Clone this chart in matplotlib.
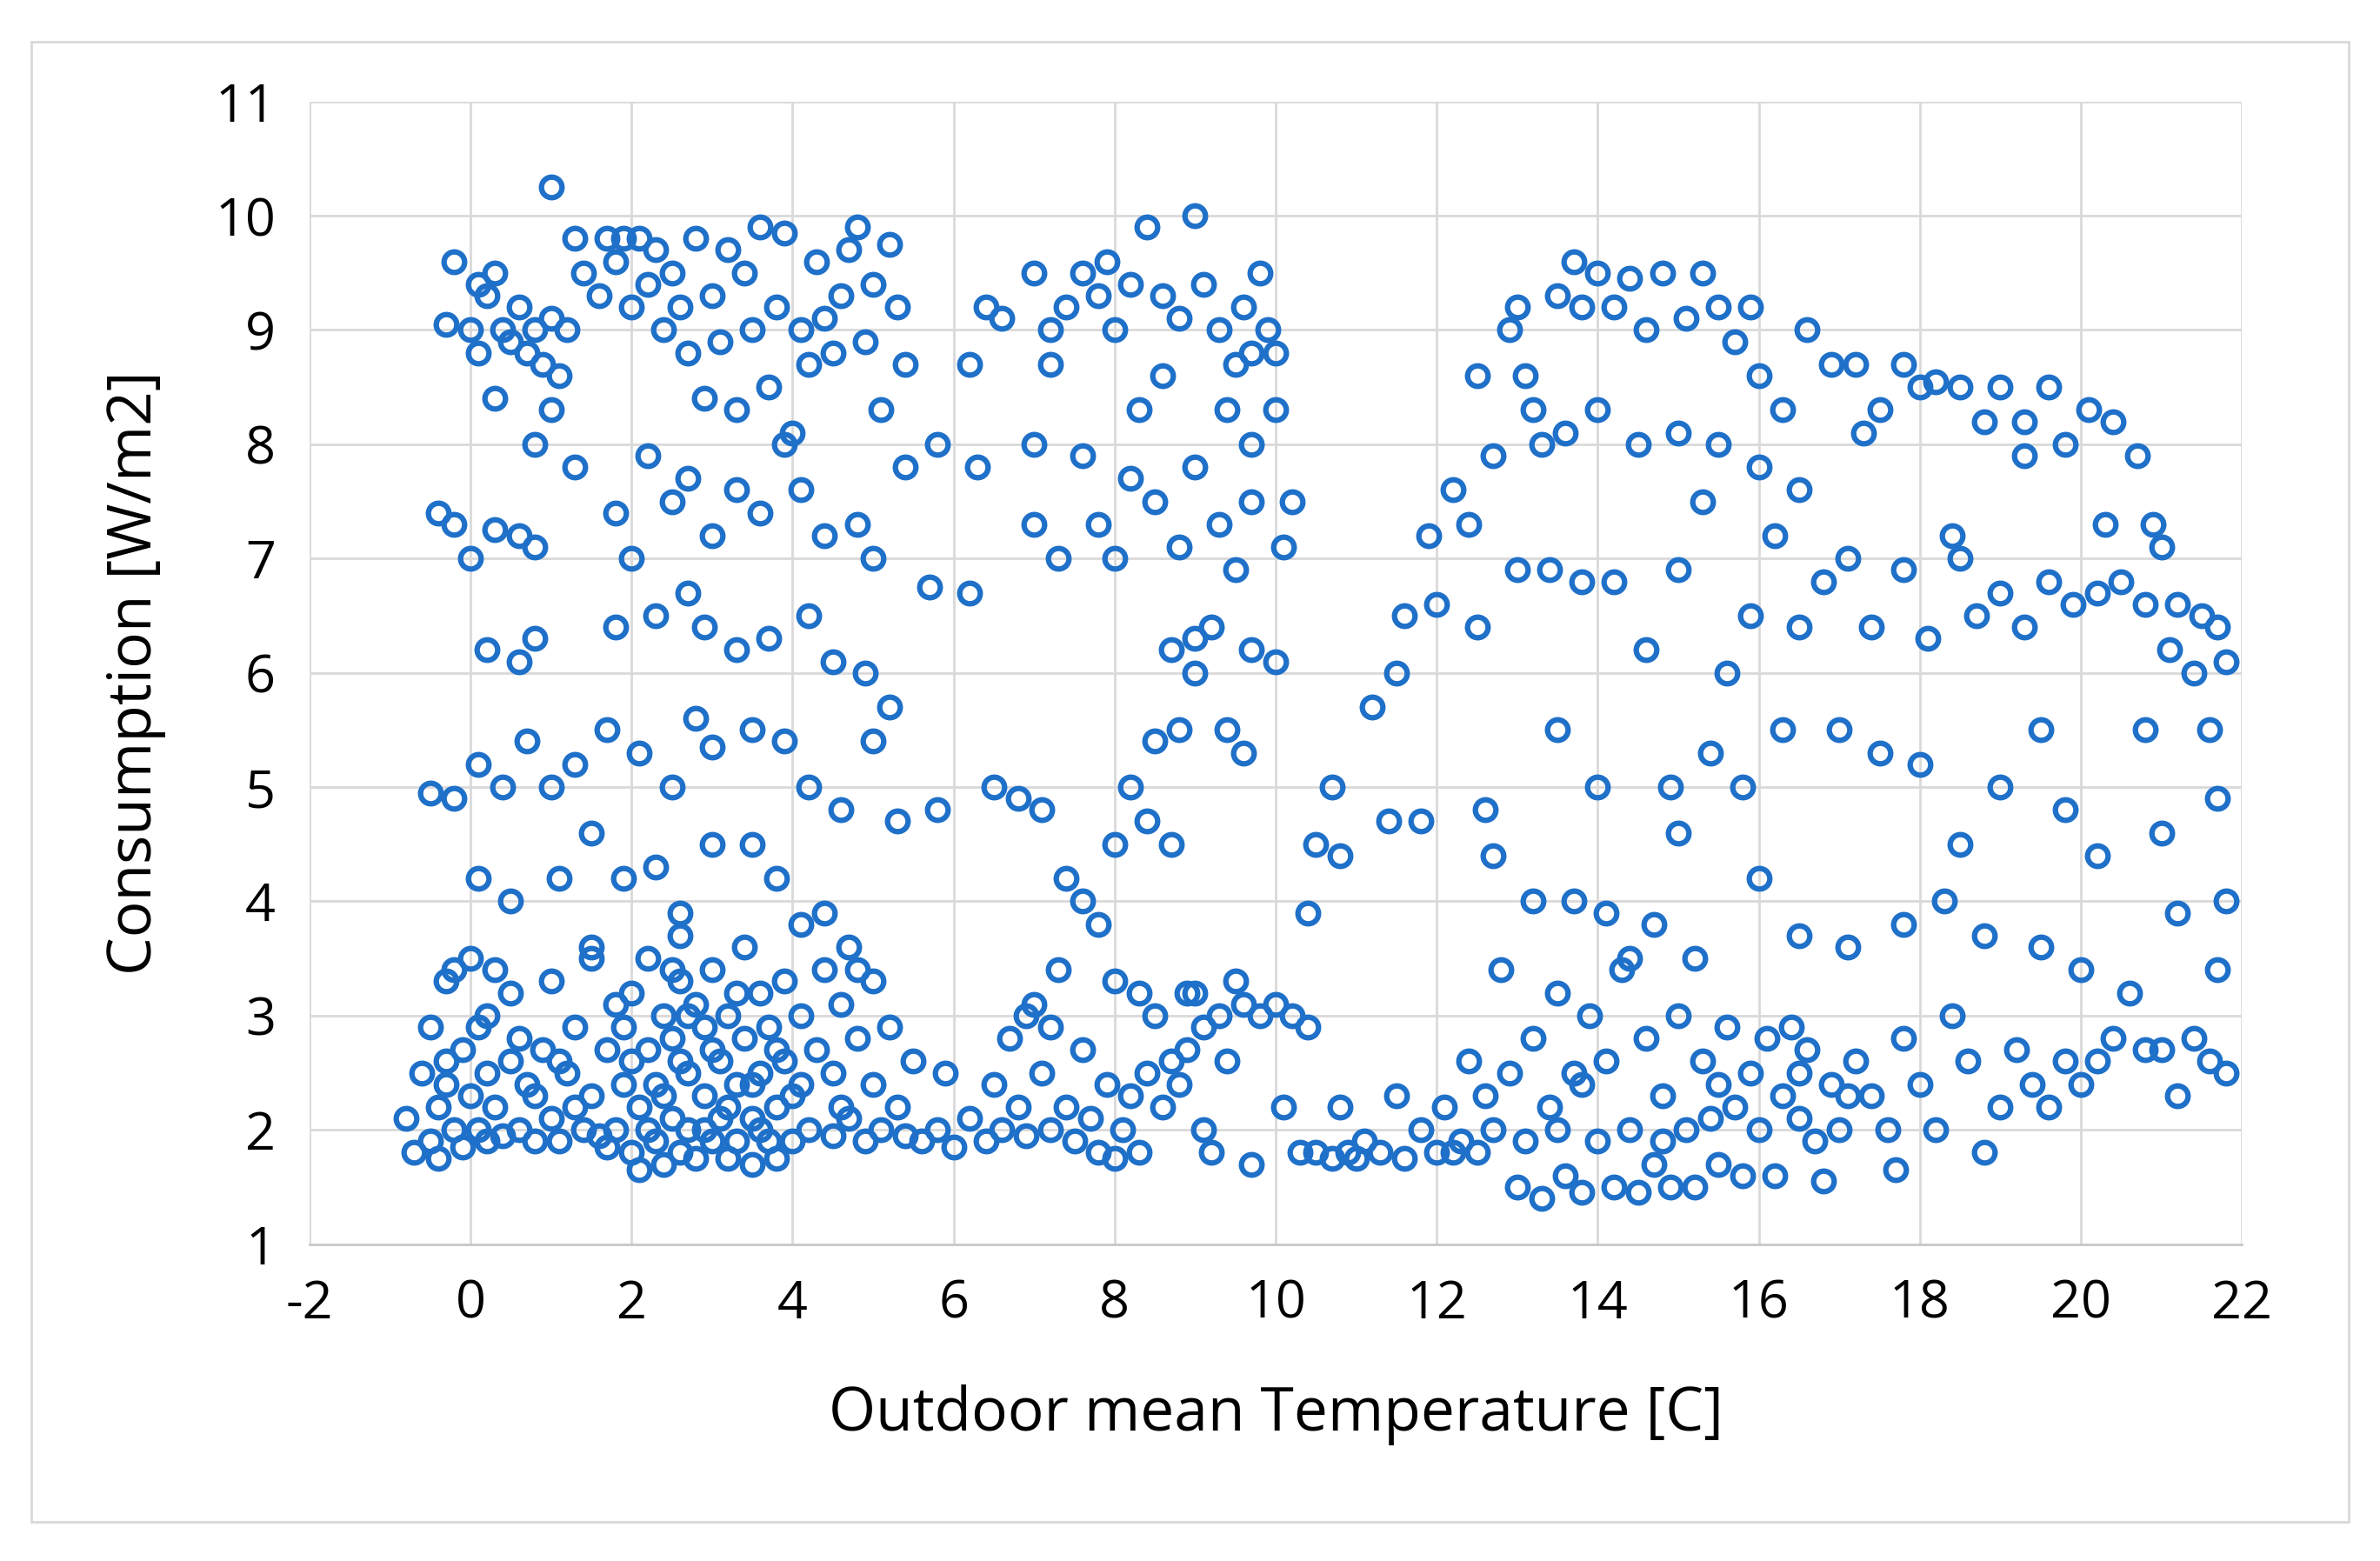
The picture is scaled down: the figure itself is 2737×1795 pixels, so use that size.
import matplotlib.pyplot as plt
import numpy as np
from matplotlib.patches import Rectangle

# (temperature, consumption) pairs, grouped by region
low_left = [(-0.8,2.1),(-0.7,1.8),(-0.6,2.5),(-0.5,1.9),(-0.5,2.9),(-0.4,2.2),(-0.4,1.75),(-0.3,3.3),(-0.3,2.4),(-0.2,2.0),(-0.2,3.4),(-0.1,1.85),(-0.1,2.7),(0,2.3),(0,3.5),(0.1,2.0),(0.1,2.9),(0.2,1.9),(0.2,2.5),(0.3,3.4),(0.3,2.2),(0.4,1.95),(0.5,2.6),(0.5,3.2),(0.6,2.0),(0.7,2.4),(0.8,1.9),(0.9,2.7),(1.0,2.1),(1.0,3.3),(1.1,1.9),(1.2,2.5),(1.3,2.9),(1.4,2.0),(1.5,3.6),(1.5,2.3),(1.6,1.95),(1.7,2.7),(1.8,3.1),(1.8,2.0),(1.9,2.4),(2.0,1.8),(2.0,3.2),(2.1,2.2),(2.1,1.65),(2.2,2.7),(2.2,3.5),(2.3,1.9),(2.3,2.4),(2.4,3.0),(2.4,1.7),(2.5,2.1),(2.5,2.8),(2.6,3.3),(2.6,1.8),(2.7,2.5),(2.7,2.0),(2.8,3.1),(2.8,1.75),(2.9,2.3),(2.9,2.9),(3.0,1.9),(3.0,3.4),(3.1,2.6),(3.1,2.1),(3.2,1.75),(3.2,3.0),(3.3,2.4),(3.3,1.9),(3.4,2.8),(3.4,3.6),(3.5,2.1),(3.5,1.7),(3.6,2.5),(3.6,3.2),(3.7,1.9),(3.7,2.9),(3.8,2.2),(3.8,1.75),(3.9,3.3),(3.9,2.6),(4.0,1.9),(4.0,2.3),(4.1,3.0),(4.2,2.0),(4.3,2.7),(4.4,3.4),(4.5,1.95),(4.5,2.5),(4.6,3.1),(4.7,2.1),(4.8,2.8),(4.9,1.9),(5.0,3.3),(5.0,2.4),(5.1,2.0),(5.2,2.9),(5.3,2.2),(5.4,1.95),(5.5,2.6),
            (0.2,3.0),(0.6,2.8),(1.3,2.2),(1.7,1.85),(2.0,2.6),(2.4,2.3),(2.6,2.6),(2.9,2.0),(3.0,2.7),(3.3,3.2),(3.5,2.4),(3.8,2.7),(4.1,2.4),(4.6,2.2),(3.2,2.2),(2.7,3.0),(1.1,2.6),(-0.3,2.6),(0.8,2.3),(2.2,2.0),(3.6,2.0),(2.5,3.4),(1.9,2.9),(4.8,3.4)]
low_mid = [(5.6,1.9),(5.8,2.0),(6.0,1.85),(6.2,2.1),(6.4,1.9),(6.5,2.4),(6.6,2.0),(6.7,2.8),(6.8,2.2),(6.9,1.95),(7.0,3.1),(7.1,2.5),(7.2,2.0),(7.3,3.4),(7.4,2.2),(7.5,1.9),(7.6,2.7),(7.7,2.1),(7.8,1.8),(7.9,2.4),(8.0,1.75),(8.0,3.3),(8.1,2.0),(8.2,2.3),(8.3,1.8),(8.4,2.5),(8.5,3.0),(8.6,2.2),(8.7,2.6),(8.8,2.4),(8.9,2.7),(9.0,3.2),(9.1,2.9),(9.2,1.8),(9.3,3.0),(9.4,2.6),(9.5,3.3),(9.6,3.1),(9.7,1.7),(9.8,3.0),(10.0,3.1),(10.1,2.2),(10.2,3.0),(10.3,1.8),(10.4,2.9),(7.2,2.9),(8.3,3.2),(6.9,3.0),(5.9,2.5),(9.1,2.0)]
low_right = [(10.5,1.8),(10.7,1.75),(10.9,1.8),(11.1,1.9),(11.3,1.8),(11.5,2.3),(11.6,1.75),(11.8,2.0),(12.0,1.8),(12.1,2.2),(12.3,1.9),(12.4,2.6),(12.5,1.8),(12.6,2.3),(12.7,2.0),(12.8,3.4),(12.9,2.5),(13.0,1.5),(13.1,1.9),(13.2,2.8),(13.3,1.4),(13.4,2.2),(13.5,3.2),(13.6,1.6),(13.7,2.5),(13.8,1.45),(13.9,3.0),(14.0,1.9),(14.1,2.6),(14.2,1.5),(14.3,3.4),(14.4,2.0),(14.5,1.45),(14.6,2.8),(14.7,1.7),(14.8,2.3),(14.9,1.5),(15.0,3.0),(15.1,2.0),(15.2,1.5),(15.3,2.6),(15.4,2.1),(15.5,1.7),(15.6,2.9),(15.7,2.2),(15.8,1.6),(15.9,2.5),(16.0,2.0),(16.1,2.8),(16.2,1.6),(16.3,2.3),(16.4,2.9),(16.5,2.1),(16.6,2.7),(16.7,1.9),(16.8,1.55),(16.9,2.4),(17.0,2.0),(17.2,2.6),(17.4,2.3),(17.6,2.0),(17.7,1.65),(17.8,2.8),(18.0,2.4),(18.2,2.0),(18.4,3.0),(18.6,2.6),(18.8,1.8),(19.0,2.2),(19.2,2.7),(19.4,2.4),(19.6,2.2),(19.8,2.6),(20.0,2.4),(20.2,2.6),(20.4,2.8),(20.8,2.7),(21.0,2.7),(21.2,2.3),(21.4,2.8),(21.6,2.6),(21.8,2.5),(13.5,2.0),(14.8,1.9),(16.5,2.5),(15.5,2.4),(13.8,2.4),(17.1,2.3),(12.2,1.8),(11.0,1.75),(10.8,2.2)]
high_left = [(-0.3,9.05),(-0.2,9.6),(0.0,9.0),(0.1,9.4),(0.2,9.3),(0.3,9.5),(0.4,9.0),(0.5,8.9),(0.6,9.2),(0.7,8.8),(0.8,9.0),(0.9,8.7),(1.0,9.1),(1.0,10.25),(1.1,8.6),(1.2,9.0),(1.3,9.8),(1.4,9.5),(1.6,9.3),(1.7,9.8),(1.8,9.6),(1.9,9.8),(2.0,9.2),(2.1,9.8),(2.2,9.4),(2.3,9.7),(2.4,9.0),(2.5,9.5),(2.6,9.2),(2.7,8.8),(2.8,9.8),(2.9,8.4),(3.0,9.3),(3.1,8.9),(3.2,9.7),(3.3,8.3),(3.4,9.5),(3.5,9.0),(3.6,9.9),(3.7,8.5),(3.8,9.2),(3.9,9.85),(4.0,8.1),(4.1,9.0),(4.2,8.7),(4.3,9.6),(4.4,9.1),(4.5,8.8),(4.6,9.3),(4.7,9.7),(4.8,9.9),(4.9,8.9),(5.0,9.4),(5.1,8.3),(5.2,9.75),(5.3,9.2),(5.4,8.7),(0.3,8.4),(0.6,7.2),(0.1,8.8),(0.8,8.0),(1.0,8.3)]
high_mid = [(6.4,9.2),(6.6,9.1),(7.0,9.5),(7.2,9.0),(7.4,9.2),(7.6,9.5),(7.8,9.3),(7.9,9.6),(8.0,9.0),(8.2,9.4),(8.4,9.9),(8.6,9.3),(8.8,9.1),(9.0,10.0),(9.1,9.4),(9.3,9.0),(9.5,8.7),(9.6,9.2),(9.7,8.8),(9.8,9.5),(9.9,9.0),(10.0,8.8),(9.4,8.3),(8.6,8.6),(7.2,8.7),(8.3,8.3),(9.7,8.0),(10.0,8.3),(6.2,8.7)]
middle_left = [(-0.4,7.4),(-0.2,7.3),(0.0,7.0),(0.3,7.25),(0.8,7.1),(1.3,7.8),(1.8,7.4),(2.0,7.0),(2.2,7.9),(2.5,7.5),(2.7,7.7),(3.0,7.2),(3.3,7.6),(3.6,7.4),(3.9,8.0),(4.1,7.6),(4.4,7.2),(4.8,7.3),(5.0,7.0),(5.4,7.8),(5.8,8.0),(6.3,7.8),(0.2,6.2),(0.6,6.1),(0.8,6.3),(1.8,6.4),(2.3,6.5),(2.7,6.7),(2.9,6.4),(3.3,6.2),(3.7,6.3),(4.2,6.5),(4.5,6.1),(4.9,6.0),(5.7,6.75),(6.2,6.7),
               (-0.5,4.95),(-0.2,4.9),(0.1,5.2),(0.4,5.0),(0.7,5.4),(1.0,5.0),(1.3,5.2),(1.7,5.5),(2.1,5.3),(2.5,5.0),(2.8,5.6),(3.0,5.35),(3.5,5.5),(3.9,5.4),(4.2,5.0),(4.6,4.8),(5.0,5.4),(5.2,5.7),(5.3,4.7),(5.8,4.8),
               (0.1,4.2),(0.5,4.0),(1.1,4.2),(1.5,4.6),(1.9,4.2),(2.3,4.3),(2.6,3.9),(3.0,4.5),(3.5,4.5),(3.8,4.2),(4.1,3.8),(4.4,3.9),(4.7,3.6),(1.5,3.5),(2.6,3.7)]
middle_mid = [(6.5,5.0),(6.8,4.9),(7.1,4.8),(7.4,4.2),(7.6,4.0),(7.8,3.8),(8.0,4.5),(8.2,5.0),(8.4,4.7),(8.5,5.4),(8.7,4.5),(8.9,3.2),(8.8,5.5),(9.0,6.0),(9.2,6.4),(9.4,5.5),(9.6,5.3),(9.7,6.2),(10.0,6.1),(7.0,7.3),(7.3,7.0),(7.6,7.9),(7.8,7.3),(8.0,7.0),(8.2,7.7),(8.5,7.5),(8.8,7.1),(9.0,7.8),(9.3,7.3),(9.5,6.9),(9.7,7.5),(10.1,7.1),(10.2,7.5),(7.0,8.0),(8.7,6.2),(9.0,6.3),
              (10.4,3.9),(10.5,4.5),(10.7,5.0),(10.8,4.4),(11.2,5.7),(11.4,4.7),(11.5,6.0),(11.6,6.5),(11.8,4.7),(11.9,7.2),(12.0,6.6),(12.2,7.6),(12.4,7.3),(12.5,6.4),(12.5,8.6),(12.6,4.8)]
upper_right = [(12.7,7.9),(12.9,9.0),(13.0,9.2),(13.1,8.6),(13.3,8.0),(13.5,9.3),(13.7,9.6),(13.8,9.2),(14.0,9.5),(14.2,9.2),(14.4,9.45),(14.6,9.0),(14.8,9.5),(15.1,9.1),(15.3,9.5),(15.5,9.2),(15.7,8.9),(15.9,9.2),(16.0,8.6),(16.3,8.3),(16.6,9.0),(16.9,8.7),(17.2,8.7),(17.5,8.3),(17.8,8.7),(18.0,8.5),(18.2,8.55),(18.5,8.5),(18.8,8.2),(19.0,8.5),(19.3,8.2),(19.6,8.5),(19.8,8.0),(20.1,8.3),(20.4,8.2),(20.7,7.9),(20.9,7.3),(21.0,7.1),(21.2,6.6),(21.5,6.5),(21.7,6.4),(21.8,6.1),
               (13.0,6.9),(13.4,6.9),(13.8,6.8),(14.2,6.8),(14.6,6.2),(15.0,6.9),(15.3,7.5),(15.6,6.0),(15.9,6.5),(16.2,7.2),(16.5,6.4),(16.8,6.8),(17.1,7.0),(17.4,6.4),(17.8,6.9),(18.1,6.3),(18.4,7.2),(18.7,6.5),(19.0,6.7),(19.3,6.4),(19.6,6.8),(19.9,6.6),(20.2,6.7),(20.5,6.8),(20.8,6.6),(21.1,6.2),(21.4,6.0),
               (14.0,8.3),(14.5,8.0),(15.0,8.1),(15.5,8.0),(16.0,7.8),(16.5,7.6),(17.3,8.1),(18.5,7.0),(19.3,7.9),(20.3,7.3),(13.2,8.3),(13.6,8.1)]
middle_right = [(13.5,5.5),(14.0,5.0),(14.9,5.0),(15.0,4.6),(15.4,5.3),(15.8,5.0),(16.0,4.2),(16.3,5.5),(17.0,5.5),(17.5,5.3),(18.0,5.2),(18.5,4.5),(19.0,5.0),(19.5,5.5),(19.8,4.8),(20.2,4.4),(20.8,5.5),(21.0,4.6),(21.6,5.5),(21.7,4.9),(21.8,4.0),
                (13.2,4.0),(13.7,4.0),(14.1,3.9),(14.4,3.5),(14.7,3.8),(15.2,3.5),(16.5,3.7),(17.1,3.6),(17.8,3.8),(18.3,4.0),(18.8,3.7),(19.5,3.6),(20.0,3.4),(20.6,3.2),(21.2,3.9),(21.7,3.4),(12.7,4.4)]

points = np.array(low_left + low_mid + low_right + high_left + high_mid
                  + middle_left + middle_mid + upper_right + middle_right)
temperature = points[:, 0]
consumption = points[:, 1]

x_ticks = list(range(-2, 23, 2))
y_ticks = list(range(1, 12))

plt.rcParams['font.family'] = ['Open Sans', 'DejaVu Sans']
plt.rcParams['axes.unicode_minus'] = False

fig = plt.figure(figsize=(27.37, 17.95), dpi=100)
fig.patches.append(Rectangle((0.013, 0.025), 0.974, 0.948, transform=fig.transFigure,
                             fill=False, edgecolor="#d8d8d8", linewidth=2))
ax = fig.add_axes([0.130, 0.203, 0.812, 0.732])

ax.plot(temperature, consumption, linestyle="None", marker="o", markersize=17,
        markerfacecolor="none", markeredgecolor="#1f70c8", markeredgewidth=4.5)

ax.set_xlim(-2, 22)
ax.set_ylim(1, 11)
ax.set_xticks(x_ticks)
ax.set_yticks(y_ticks)
ax.grid(True, color="#d9d9d9", linewidth=2)
ax.set_axisbelow(True)
for side in ["top", "right", "left"]:
    ax.spines[side].set_visible(False)
ax.spines["bottom"].set_color("#c8c8c8")
ax.spines["bottom"].set_linewidth(2)
ax.tick_params(length=0, labelsize=44, pad=28)
ax.set_xlabel("Outdoor mean Temperature [C]", fontsize=50, labelpad=45)
ax.set_ylabel("Consumption [W/m2]", fontsize=50, labelpad=40)

plt.savefig("out.png")
